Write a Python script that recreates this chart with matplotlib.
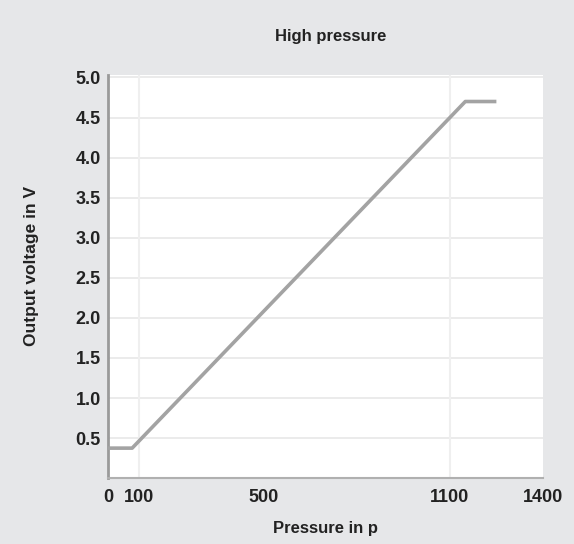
import matplotlib
matplotlib.use("Agg")
import matplotlib.pyplot as plt

# Data
pressure = [0, 78, 1150, 1250]
voltage = [0.375, 0.375, 4.7, 4.7]
x_ticks = [0, 100, 500, 1100, 1400]
y_ticks = [0.5, 1.0, 1.5, 2.0, 2.5, 3.0, 3.5, 4.0, 4.5, 5.0]
x_grid = [100, 1100]

plt.rcParams['font.family'] = ['Liberation Sans', 'DejaVu Sans']
fig = plt.figure(figsize=(5.74, 5.44), dpi=100)
fig.patch.set_facecolor('#e6e7e9')
ax = fig.add_axes([0.188, 0.121, 0.758, 0.741])
ax.set_facecolor('white')

for y in y_ticks:
    ax.axhline(y, color='#e8e8e8', lw=1.2, zorder=1)
for x in x_grid:
    ax.axvline(x, color='#efefef', lw=1.5, zorder=1)

ax.plot(pressure, voltage, color='#a3a3a3', lw=2.6, solid_capstyle='butt', zorder=3)

ax.set_xlim(0, 1400)
ax.set_ylim(0, 5.03)
ax.set_xticks(x_ticks)
ax.set_xticklabels([str(v) for v in x_ticks], fontsize=13, fontweight='bold', color='#222222')
ax.set_yticks(y_ticks)
ax.set_yticklabels([f"{v:.1f}" for v in y_ticks], fontsize=13, fontweight='bold', color='#222222')
ax.tick_params(axis='y', length=0, pad=5)
ax.tick_params(axis='x', length=0, pad=8)

for s in ['top', 'right']:
    ax.spines[s].set_visible(False)
ax.spines['left'].set_color('#9a9a9a')
ax.spines['left'].set_linewidth(2)
ax.spines['bottom'].set_color('#b0b0b0')
ax.spines['bottom'].set_linewidth(1.5)

fig.text(331 / 574, 1 - 37 / 544, 'High pressure', ha='center', va='center',
         fontsize=12, fontweight='bold', color='#222222')
ax.set_xlabel('Pressure in p', fontsize=12, fontweight='bold', color='#222222')
ax.xaxis.set_label_coords(0.499, -0.124)
ax.xaxis.label.set_va('center')
ax.set_ylabel('Output voltage in V', fontsize=12.5, fontweight='bold', color='#222222')
ax.yaxis.set_label_coords(-0.175, 0.526)
ax.yaxis.label.set_va('center')

fig.savefig('out.png', dpi=100, facecolor=fig.get_facecolor())
